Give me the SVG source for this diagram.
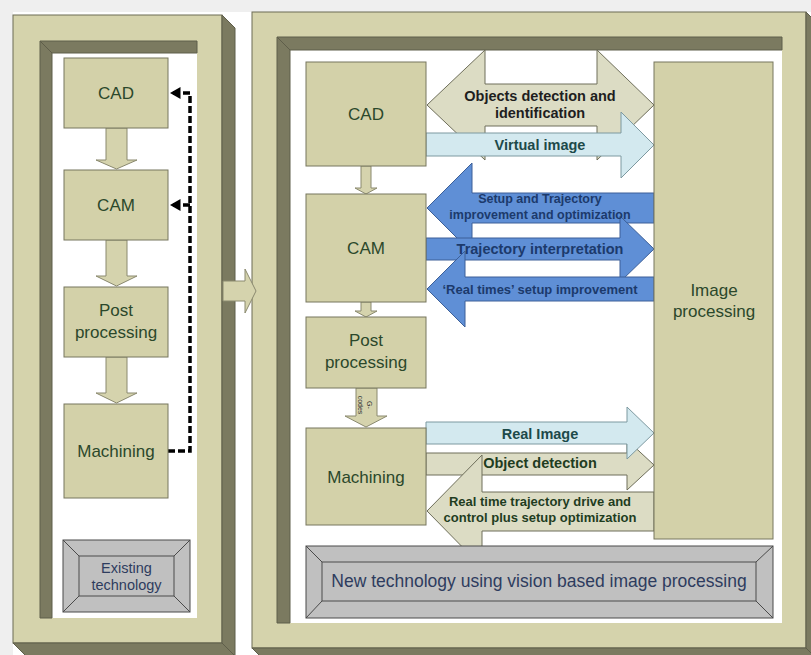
<svg xmlns="http://www.w3.org/2000/svg" width="811" height="655" viewBox="0 0 811 655">
<style>
.frame{fill:#d5d3ac;stroke:#6d6c55;stroke-width:1}
.dark{fill:#7b7a60;stroke:#5f5e4a;stroke-width:1}
.white{fill:#ffffff}
.box{fill:#d3d1a9;stroke:#77765e;stroke-width:1}
.flow{fill:#d5d3ad;stroke:#8a896f;stroke-width:1}
.pale{fill:#dcdcc4;stroke:#6e6e5a;stroke-width:1}
.sky{fill:#d3e9ef;stroke:#7d99a0;stroke-width:1}
.blue{fill:#5f8fd6;stroke:#3c5f98;stroke-width:1}
.bev{fill:#c0c0c0;stroke:#4a4a4a;stroke-width:1}
.t{font-family:"Liberation Sans",Arial,sans-serif;text-anchor:middle}
.nd{font-size:17px;fill:#2b482b}
.bt{font-weight:bold}
.bk{fill:#1e1e1e}
.tl{fill:#1d4a4a}
.nv{fill:#1c3a6c}
.gr{fill:#1f3d1f}
.bn{fill:#2e3c5e}
.dash{fill:none;stroke:#000;stroke-width:3.5;stroke-dasharray:7 3}
</style>
<defs>
<marker id="ah" markerWidth="4" markerHeight="4" refX="3" refY="2" orient="auto" markerUnits="strokeWidth">
<path d="M0,0.3 L3,2 L0,3.7 Z" fill="#000"/>
</marker>
</defs>
<rect x="0" y="0" width="811" height="655" fill="#ffffff"/>
<rect x="0" y="0" width="811" height="12" fill="#efefef"/>
<rect x="0" y="0" width="13" height="655" fill="#efefef"/>

<g id="left-frame">
<rect class="frame" x="13" y="15" width="209" height="628"/>
<polygon class="dark" points="222,15 235,28 235,656 222,643"/>
<polygon class="dark" points="13,643 222,643 235,656 26,656"/>
<rect class="white" x="40" y="41" width="157" height="577"/>
<polygon class="dark" points="40,41 197,41 197,53 52,53"/>
<polygon class="dark" points="40,41 52,53 52,618 40,618"/>
</g>

<g id="right-frame">
<rect class="frame" x="252" y="12" width="554" height="636"/>
<polygon class="dark" points="806,12 819,25 819,661 806,648"/>
<polygon class="dark" points="252,648 806,648 819,661 265,661"/>
<rect class="white" x="277" y="37" width="505" height="586"/>
<polygon class="dark" points="277,37 782,37 782,50 290,50"/>
<polygon class="dark" points="277,37 290,50 290,623 277,623"/>
</g>

<g id="connectors">
<polygon class="flow" points="106,128 127,128 127,160 137,160 116.5,169 96,160 106,160"/>
<polygon class="flow" points="106,240 127,240 127,276 137,276 116.5,286 96,276 106,276"/>
<polygon class="flow" points="106,357 127,357 127,393 137,393 116.5,403 96,393 106,393"/>
<polyline class="dash" points="168,451 190,451 190,93 170,93" marker-end="url(#ah)"/>
<polyline class="dash" points="190,205 170,205" marker-end="url(#ah)"/>
<polygon class="flow" points="223,281 245,281 245,269 256,291 245,313 245,301 223,301"/>
<polygon class="flow" points="361,166 371,166 371,188 377,188 366,194 355,188 361,188"/>
<polygon class="flow" points="361,302 371,302 371,311 377,311 366,317 355,311 361,311"/>
<polygon class="flow" points="356,388 377,388 377,416 387,416 366,427 345,416 356,416"/>
<polygon class="pale" points="427,105 485,50 485,84 597,84 597,50 654,105 597,160 597,126 485,126 485,160"/>
<polygon class="sky" points="426,133 621,133 621,112 654,145 621,178 621,156 426,156"/>
<polygon class="blue" points="427,208 472,163 472,193 654,193 654,223 472,223 472,253"/>
<polygon class="blue" points="426,238 620,238 620,216 654,249 620,282 620,260 426,260"/>
<polygon class="blue" points="427,289 465,251 465,277 654,277 654,301 465,301 465,327"/>
<polygon class="pale" points="426,453 627,453 627,440 654,465 627,490 627,475 426,475"/>
<polygon class="pale" points="427,511 482,455 482,492 654,492 654,531 482,531 482,567"/>
<polygon class="sky" points="426,422 627,422 627,407 654,433 627,459 627,444 426,444"/>
<g class="t">
<text class="bt bk" x="540" y="101" font-size="14.5">Objects detection and</text>
<text class="bt bk" x="540" y="118" font-size="14.5">identification</text>
<text class="bt tl" x="540" y="150" font-size="14.5">Virtual image</text>
<text class="bt nv" x="540" y="203" font-size="12.5">Setup and Trajectory</text>
<text class="bt nv" x="540" y="219" font-size="12.5">improvement and optimization</text>
<text class="bt nv" x="540" y="254" font-size="14.5">Trajectory interpretation</text>
<text class="bt nv" x="540" y="294" font-size="13">‘Real times’ setup improvement</text>
<text class="bt tl" x="540" y="439" font-size="14.5">Real Image</text>
<text class="bt gr" x="540" y="468" font-size="14.5">Object detection</text>
<text class="bt gr" x="540" y="506" font-size="13">Real time trajectory drive and</text>
<text class="bt gr" x="540" y="522" font-size="13">control plus setup optimization</text>
<g transform="translate(366,405) rotate(90)">
<text x="0" y="-1" font-size="7" fill="#333">G-</text>
<text x="0" y="8" font-size="7" fill="#333">codes</text>
</g>
</g>
</g>

<g id="cad-left"><rect class="box" x="64" y="58" width="104" height="70"/><text class="t nd" x="116" y="99">CAD</text></g>
<g id="cam-left"><rect class="box" x="64" y="170" width="104" height="70"/><text class="t nd" x="116" y="211">CAM</text></g>
<g id="post-left"><rect class="box" x="64" y="287" width="104" height="70"/><text class="t nd" x="116" y="316">Post</text><text class="t nd" x="116" y="338">processing</text></g>
<g id="machining-left"><rect class="box" x="64" y="404" width="104" height="94"/><text class="t nd" x="116" y="457">Machining</text></g>
<g id="existing-technology">
<rect class="bev" x="63" y="540" width="127" height="72"/>
<rect class="bev" x="79" y="556" width="95" height="40"/>
<path d="M63,540 L79,556 M190,540 L174,556 M63,612 L79,596 M190,612 L174,596" stroke="#4a4a4a" fill="none"/>
<text class="t bn" x="126.5" y="573" font-size="14.5">Existing</text>
<text class="t bn" x="126.5" y="590" font-size="14.5">technology</text>
</g>

<g id="cad-right"><rect class="box" x="306" y="62" width="120" height="104"/><text class="t nd" x="366" y="120">CAD</text></g>
<g id="cam-right"><rect class="box" x="306" y="194" width="120" height="108"/><text class="t nd" x="366" y="254">CAM</text></g>
<g id="post-right"><rect class="box" x="306" y="317" width="120" height="71"/><text class="t nd" x="366" y="346">Post</text><text class="t nd" x="366" y="368">processing</text></g>
<g id="machining-right"><rect class="box" x="306" y="428" width="120" height="97"/><text class="t nd" x="366" y="483">Machining</text></g>
<g id="image-processing"><rect class="box" x="654" y="62" width="119" height="477"/><text class="t nd" x="714" y="296">Image</text><text class="t nd" x="714" y="317">processing</text></g>
<g id="new-technology">
<rect class="bev" x="306" y="546" width="467" height="72"/>
<rect class="bev" x="322" y="562" width="434" height="39"/>
<path d="M306,546 L322,562 M773,546 L756,562 M306,618 L322,601 M773,618 L756,601" stroke="#4a4a4a" fill="none"/>
<text class="t bn" x="539" y="587" font-size="17.5">New technology using vision based image processing</text>
</g>
</svg>
